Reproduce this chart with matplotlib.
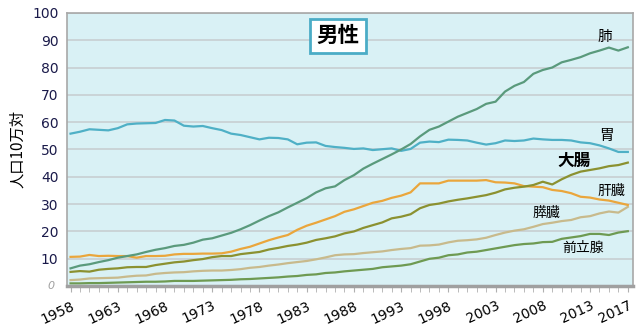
import matplotlib.pyplot as plt
from matplotlib.ticker import MultipleLocator

plt.rcParams['font.family'] = ['Noto Sans CJK JP', 'DejaVu Sans']

# age-adjusted cancer mortality, men, per 100k
years = list(range(1958, 2018))

lung = [6.5, 7.5, 8.0, 8.8, 9.5, 10.4, 11.0, 11.6, 12.5, 13.3,
        13.9, 14.7, 15.1, 15.9, 17.0, 17.5, 18.5, 19.5, 20.8, 22.3,
        24.0, 25.6, 27.0, 28.8, 30.5, 32.2, 34.3, 35.8, 36.5, 38.8,
        40.6, 43.0, 44.8, 46.5, 48.2, 50.0, 52.0, 54.8, 57.2, 58.4,
        60.2, 62.0, 63.4, 64.8, 66.7, 67.5, 71.2, 73.3, 74.7, 77.7,
        79.1, 80.0, 81.9, 82.8, 83.8, 85.2, 86.2, 87.3, 86.2, 87.4]

stomach = [55.8, 56.5, 57.4, 57.2, 57.0, 57.8, 59.2, 59.5, 59.6, 59.7,
           60.8, 60.6, 58.7, 58.4, 58.6, 57.8, 57.1, 55.8, 55.3, 54.5,
           53.7, 54.3, 54.2, 53.7, 51.9, 52.5, 52.6, 51.3, 50.9, 50.6,
           50.2, 50.4, 49.8, 50.1, 50.4, 49.5, 50.2, 52.5, 52.9, 52.7,
           53.6, 53.5, 53.3, 52.5, 51.8, 52.3, 53.3, 53.1, 53.3, 54.0,
           53.7, 53.5, 53.5, 53.3, 52.6, 52.3, 51.5, 50.4, 49.1, 49.1]

colon = [5.2, 5.5, 5.3, 6.0, 6.3, 6.5, 6.9, 7.0, 7.0, 7.7,
         8.2, 8.7, 9.0, 9.5, 9.9, 10.6, 11.0, 11.0, 11.7, 12.1,
         12.5, 13.4, 14.0, 14.7, 15.2, 15.9, 16.9, 17.5, 18.2, 19.3,
         20.0, 21.3, 22.3, 23.3, 24.8, 25.4, 26.3, 28.5, 29.7, 30.2,
         31.0, 31.6, 32.1, 32.7, 33.3, 34.2, 35.4, 36.0, 36.4, 37.0,
         38.2, 37.2, 39.1, 40.7, 41.9, 42.5, 43.1, 43.9, 44.3, 45.2]

liver = [10.7, 10.8, 11.4, 11.0, 11.1, 11.0, 11.0, 10.4, 11.0, 11.0,
         11.1, 11.6, 11.8, 11.8, 11.9, 11.9, 12.0, 12.6, 13.6, 14.4,
         15.6, 16.8, 17.8, 18.7, 20.6, 22.1, 23.2, 24.4, 25.6, 27.2,
         28.1, 29.3, 30.5, 31.2, 32.3, 33.1, 34.3, 37.6, 37.6, 37.6,
         38.6, 38.6, 38.6, 38.6, 38.8, 38.0, 37.9, 37.6, 36.6, 36.4,
         36.2, 35.2, 34.8, 34.0, 32.7, 32.4, 31.7, 31.3, 30.5, 29.7]

pancreas = [2.2, 2.4, 2.8, 2.9, 3.0, 3.1, 3.5, 3.8, 3.9, 4.5,
            4.8, 5.0, 5.1, 5.4, 5.6, 5.7, 5.7, 5.9, 6.2, 6.7,
            7.0, 7.5, 7.9, 8.4, 8.8, 9.2, 9.8, 10.5, 11.3, 11.6,
            11.7, 12.1, 12.4, 12.7, 13.2, 13.6, 13.9, 14.8, 14.9, 15.2,
            16.0, 16.6, 16.8, 17.1, 17.7, 18.7, 19.6, 20.3, 20.8, 21.7,
            22.7, 23.2, 23.8, 24.2, 25.2, 25.6, 26.6, 27.3, 26.9, 29.0]

prostate = [1.0, 1.0, 1.1, 1.1, 1.2, 1.3, 1.4, 1.5, 1.6, 1.6,
            1.7, 1.9, 1.9, 1.9, 2.0, 2.1, 2.2, 2.3, 2.5, 2.6,
            2.8, 3.0, 3.2, 3.5, 3.7, 4.1, 4.3, 4.8, 5.0, 5.4,
            5.7, 6.0, 6.3, 6.9, 7.2, 7.5, 8.0, 9.0, 10.0, 10.4,
            11.3, 11.6, 12.3, 12.6, 13.2, 13.8, 14.4, 15.0, 15.4, 15.6,
            16.1, 16.2, 17.3, 17.8, 18.3, 19.1, 19.1, 18.7, 19.6, 20.1]

tick_years = [1958, 1963, 1968, 1973, 1978, 1983, 1988, 1993, 1998, 2003, 2008, 2013, 2017]

fig = plt.figure(figsize=(6.42, 3.30), dpi=100)
ax = fig.add_axes([0.104, 0.133, 0.882, 0.828])
ax.set_facecolor('#d9f1f5')

# draw order: back to front
ax.plot(years, prostate, color='#6e9a52', lw=1.6)
ax.plot(years, pancreas, color='#c8ba8c', lw=1.6)
ax.plot(years, liver, color='#eaa63c', lw=1.6)
ax.plot(years, colon, color='#8b9130', lw=1.6)
ax.plot(years, stomach, color='#4fb0c6', lw=1.6)
ax.plot(years, lung, color='#5a9a7c', lw=1.6)

ax.set_xlim(1957.6, 2017.55)
ax.set_ylim(0, 100)
ax.yaxis.set_major_locator(MultipleLocator(10))
ax.grid(axis='y', color='#c8cfd2', lw=1.2)
ax.set_axisbelow(True)

ax.set_yticks(range(0, 101, 10))
ylabels = ['' if v == 0 else str(v) for v in range(0, 101, 10)]
ax.set_yticklabels(ylabels, fontsize=10, color='#1a1a4a', family='DejaVu Sans')
ax.tick_params(axis='y', length=0, pad=6)
ax.text(-0.021, 0, '0', transform=ax.transAxes, fontsize=8, color='#a0a0a0',
        ha='right', va='center', family='DejaVu Sans', style='italic')

ax.set_xticks(tick_years)
ax.set_xticklabels([str(y) for y in tick_years], rotation=25, ha='right',
                   rotation_mode='anchor', fontsize=10, family='DejaVu Sans')
ax.set_xticks(years, minor=True)
ax.tick_params(axis='x', which='both', length=4, color='#b0b0b0', pad=5)

for s in ['left', 'top', 'right']:
    ax.spines[s].set_color('#a8a8a8')
    ax.spines[s].set_linewidth(1.2)
ax.spines['bottom'].set_color('#a0a0a0')
ax.spines['bottom'].set_linewidth(2.5)

ax.set_ylabel('人口10万対', fontsize=11, labelpad=4)

ax.text(1986.3, 91.6, '男性', fontsize=15.5, fontweight='bold', ha='center', va='center',
        bbox=dict(boxstyle='square,pad=0.3', fc='white', ec='#4bacc6', lw=2))

ax.text(2014.6, 91.2, '肺', fontsize=10.5, ha='center', va='center')
ax.text(2014.7, 54.9, '胃', fontsize=10.5, ha='center', va='center')
ax.text(2011.3, 45.8, '大腸', fontsize=12, fontweight='bold', ha='center', va='center')
ax.text(2015.3, 34.8, '肝臓', fontsize=10, ha='center', va='center')
ax.text(2008.4, 26.7, '膵臓', fontsize=10, ha='center', va='center')
ax.text(2012.3, 13.9, '前立腺', fontsize=10, ha='center', va='center')

fig.savefig('out.png', dpi=100)
